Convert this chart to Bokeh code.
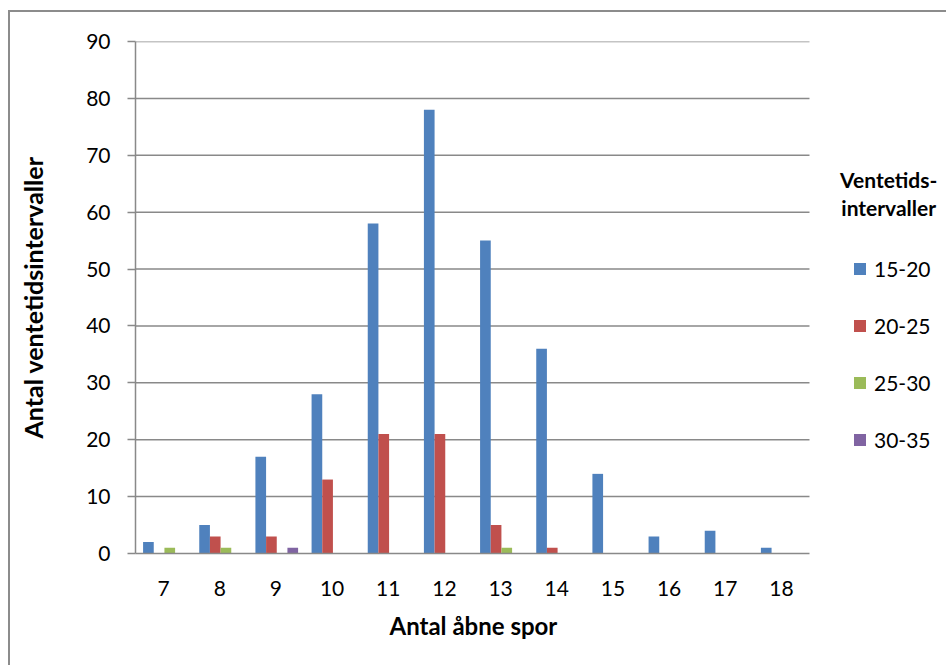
from bokeh.plotting import figure
from bokeh.models import Range1d, Legend, LegendItem, Label, ColumnDataSource, FixedTicker, Title
from bokeh.embed import file_html
from bokeh.resources import INLINE

categories = ["7", "8", "9", "10", "11", "12", "13", "14", "15", "16", "17", "18"]
series_names = ["15-20", "20-25", "25-30", "30-35"]
v_15_20 = [2, 5, 17, 28, 58, 78, 55, 36, 14, 3, 4, 1]
v_20_25 = [0, 3, 3, 13, 21, 21, 5, 1, 0, 0, 0, 0]
v_25_30 = [1, 1, 0, 0, 0, 0, 1, 0, 0, 0, 0, 0]
v_30_35 = [0, 0, 1, 0, 0, 0, 0, 0, 0, 0, 0, 0]
y_ticks = [0, 10, 20, 30, 40, 50, 60, 70, 80, 90]
x_title = "Antal åbne spor"
y_title = "Antal ventetidsintervaller"
legend_title = ["Ventetids-", "intervaller"]

colors = ["#4F81BD", "#C0504D", "#9BBB59", "#8064A2"]
offsets = [-0.27, -0.08, 0.11, 0.30]
FONT = "Lato"
GRAY = "#898989"
FS = "21px"

n = len(categories)
centers = [i + 0.5 for i in range(n)]
series = [v_15_20, v_20_25, v_25_30, v_30_35]

p = figure(
    x_range=Range1d(0, 14.475), y_range=Range1d(0, 90),
    width=938, height=655, output_backend="svg", toolbar_location=None,
    min_border_left=125, min_border_right=0, min_border_top=29, min_border_bottom=114,
)
p.styles = {"border-left": "2px solid #8c8c8c", "border-top": "2px solid #8c8c8c",
            "margin-left": "8px", "margin-top": "10px"}
p.outline_line_color = None
p.xgrid.grid_line_color = None
p.ygrid.grid_line_color = None

# horizontal gridlines across the category area only
grid_src = ColumnDataSource(dict(y=y_ticks[1:], x0=[0] * (len(y_ticks) - 1), x1=[n] * (len(y_ticks) - 1)))
p.segment(x0="x0", x1="x1", y0="y", y1="y", source=grid_src, line_color=GRAY, line_width=1.5)

p.yaxis.ticker = FixedTicker(ticks=y_ticks)
p.yaxis.minor_tick_line_color = None
p.yaxis.major_tick_in = 0
p.yaxis.major_tick_out = 8
p.yaxis.major_tick_line_color = GRAY
p.yaxis.major_tick_line_width = 1.5
p.yaxis.axis_line_color = GRAY
p.yaxis.axis_line_width = 1.5
p.yaxis.major_label_text_font = FONT
p.yaxis.major_label_text_font_size = FS
p.yaxis.major_label_text_color = "#000000"
p.yaxis.major_label_standoff = 17
p.yaxis.axis_label = y_title
p.yaxis.axis_label_text_font = FONT
p.yaxis.axis_label_text_font_style = "bold"
p.yaxis.axis_label_text_font_size = "25px"
p.yaxis.axis_label_text_color = "#000000"
p.yaxis.axis_label_standoff = 35

p.xaxis.ticker = FixedTicker(ticks=centers)
p.xaxis.major_label_overrides = {c: lab for c, lab in zip(centers, categories)}
p.xaxis.bounds = (0, n)
p.xaxis.major_tick_line_color = None
p.xaxis.minor_tick_line_color = None
p.xaxis.axis_line_color = GRAY
p.xaxis.axis_line_width = 1.5
p.xaxis.major_label_text_font = FONT
p.xaxis.major_label_text_font_size = FS
p.xaxis.major_label_text_color = "#000000"
p.xaxis.major_label_standoff = 21

# x-axis title centred under the category area (frame also holds the legend)
xt = Title(text=x_title, align="left", offset=254, standoff=21, text_font=FONT,
           text_font_style="bold", text_font_size="24px", text_color="#000000")
p.add_layout(xt, "below")

renderers = []
for i, name in enumerate(series_names):
    src = ColumnDataSource(dict(x=[c + offsets[i] for c in centers], top=series[i]))
    r = p.vbar(x="x", top="top", width=0.19, source=src, fill_color=colors[i], line_color=None)
    renderers.append(r)

legend = Legend(
    items=[LegendItem(label=nm, renderers=[r]) for nm, r in zip(series_names, renderers)],
    location=(717, 101), orientation="vertical",
    glyph_width=15, glyph_height=15, label_standoff=7, spacing=32, label_height=22,
    padding=0, margin=0, border_line_color=None, background_fill_alpha=0,
    label_text_font=FONT, label_text_font_size=FS, label_text_color="#000000",
)
p.add_layout(legend, "center")

for txt, yy in zip(legend_title, [65.74, 60.82]):
    p.add_layout(Label(x=13.41, y=yy, text=txt,
                       text_align="center", text_baseline="middle", text_font=FONT,
                       text_font_style="bold", text_font_size=FS, text_color="#000000"))

open("out.html", "w").write(file_html(p, INLINE))
